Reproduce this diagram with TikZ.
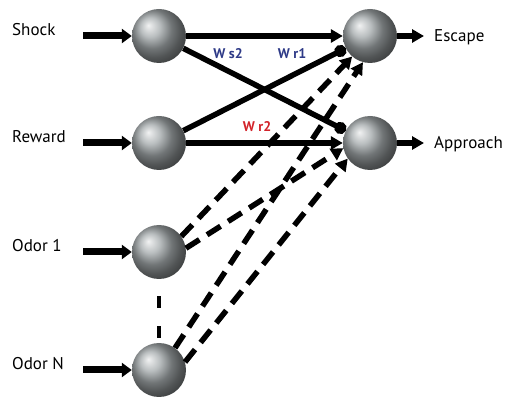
\documentclass[tikz,border=0pt]{standalone}
\usepackage{fontspec}
\setmainfont{PT Sans}
\usepackage{tikz}
\usetikzlibrary{arrows.meta}
\definecolor{gewicht}{HTML}{2E3A87}
\definecolor{hemmung}{HTML}{D2232A}
\definecolor{kugel}{HTML}{A2A8AA}

\begin{document}
\begin{tikzpicture}[x=1pt, y=-1pt,
    neuron/.style={circle, minimum size=54pt, inner sep=0pt,
                   shading=ball, ball color=kugel},
    erreg/.style={line width=5.5pt, -{Triangle[length=12pt, width=13pt]}},
    hemm/.style={line width=5.5pt, -{Circle[length=12pt]}},
    duft/.style={erreg, dash pattern=on 16pt off 9pt},
    eingang/.style={line width=7pt, -{Triangle[length=10pt, width=14pt]}},
    lab/.style={font=\fontsize{17}{19}\selectfont, anchor=west, inner sep=0pt},
    wlab/.style={font=\bfseries\fontsize{14}{16}\selectfont, inner sep=0pt}]
      \useasboundingbox (0,0) rectangle (512,398);

      % Neuronen
      \node[neuron] (schock) at (159,36) {};
      \node[neuron] (belohn) at (159,143) {};
      \node[neuron] (duft1) at (159,252) {};
      \node[neuron] (duftN) at (159,370) {};
      \node[neuron] (flucht) at (370,36) {};
      \node[neuron] (naehe) at (370,143) {};

      % Eingaenge
      \foreach \n/\y/\lab in {schock/36/Shock, belohn/143/Reward,
                              duft1/252/Odor 1, duftN/370/Odor N} {
        \coordinate (in-\n) at (83,\y);
        \draw[eingang] (in-\n) -- (\n);
        \node[lab] (t-\n) at (12,\y-6) {\lab};
      }

      % Ausgaenge
      \foreach \n/\y/\lab in {flucht/36/Escape, naehe/143/Approach} {
        \coordinate (out-\n) at (424,\y);
        \draw[erreg] (\n) -- (out-\n);
        \node[lab] (t-\n) at (434,\y+1) {\lab};
      }

      % Verbindungen
      \draw[erreg] (schock) -- (flucht);
      \draw[erreg] (belohn) -- (naehe);
      \draw[hemm] (schock) -- (naehe);
      \draw[hemm] (belohn) -- (flucht);
      \draw[duft] (duft1.35) -- (flucht.229);
      \draw[duft] (duft1.8) -- (naehe.191);
      \draw[duft] (duftN.54) -- (flucht.255);
      \draw[duft] (duftN.17) -- (naehe.215);
      \draw[line width=4pt, dash pattern=on 12pt off 18pt, dash phase=13pt]
        (duft1) -- (duftN);

      % Gewichte
      \node[wlab, text=gewicht] (ws2) at (228,54) {W s2};
      \node[wlab, text=gewicht] (wr1) at (292,54) {W r1};
      \node[wlab, text=hemmung] (wr2) at (257,127) {W r2};
    \end{tikzpicture}
\end{document}
